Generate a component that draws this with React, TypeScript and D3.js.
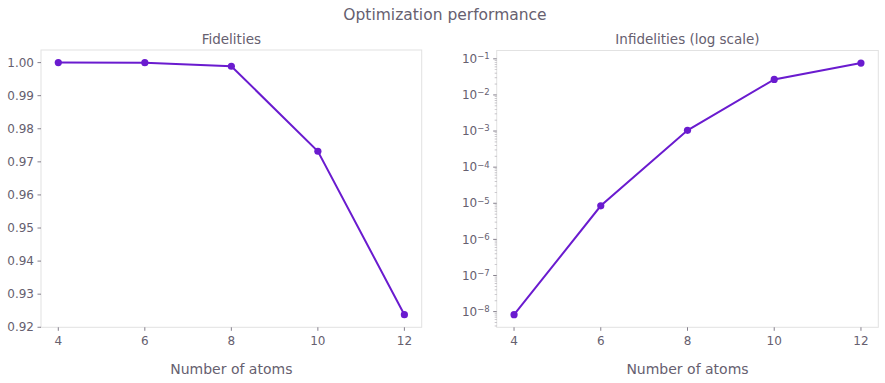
import React from "react";
import * as d3 from "d3";

const atoms = [4, 6, 8, 10, 12];
const fidelities = [1.0, 0.99999, 0.9989, 0.9732, 0.9238];
const infidelities = [8.2e-9, 8.5e-6, 1.05e-3, 0.0268, 0.0762];
const xTicks = [4, 6, 8, 10, 12];
const fidTicks = [0.92, 0.93, 0.94, 0.95, 0.96, 0.97, 0.98, 0.99, 1.0];
const logTickExps = [-8, -7, -6, -5, -4, -3, -2, -1];

const W = 885;
const H = 383;
const LINE = "#6a1bcf";
const TEXT = "#66606f";
const SPINE = "#e2e2e2";
const FONT = "DejaVu Sans, sans-serif";

function withMargin(lo: number, hi: number, m = 0.05): [number, number] {
  const r = hi - lo;
  return [lo - r * m, hi + r * m];
}

export default function App() {
  const L = { x0: 41, x1: 421.7, y0: 50, y1: 327.3 };
  const R = { x0: 496.7, x1: 878.3, y0: 50.5, y1: 327.3 };

  const xd = withMargin(d3.min(atoms)!, d3.max(atoms)!, 0.05);
  const xL = d3.scaleLinear().domain(xd).range([L.x0, L.x1]);
  const xR = d3.scaleLinear().domain(xd).range([R.x0, R.x1]);

  const yLd = withMargin(d3.min(fidelities)!, d3.max(fidelities)!, 0.05);
  const yL = d3.scaleLinear().domain(yLd).range([L.y1, L.y0]);

  const lmin = Math.log10(d3.min(infidelities)!);
  const lmax = Math.log10(d3.max(infidelities)!);
  const [ld0, ld1] = withMargin(lmin, lmax, 0.05);
  const yR = d3.scaleLog().domain([Math.pow(10, ld0), Math.pow(10, ld1)]).range([R.y1, R.y0]);

  const lineL = d3.line<number>().x((_, i) => xL(atoms[i])).y((d) => yL(d));
  const lineR = d3.line<number>().x((_, i) => xR(atoms[i])).y((d) => yR(d));

  // minor ticks for log axis
  const minor: number[] = [];
  for (let e = -9; e <= 0; e++) {
    for (let k = 2; k <= 9; k++) {
      const v = k * Math.pow(10, e);
      if (Math.log10(v) >= ld0 && Math.log10(v) <= ld1) minor.push(v);
    }
  }

  return (
    <div style={{ position: "absolute", left: 0, top: 0 }}>
      <svg width={W} height={H} style={{ display: "block", background: "#fff" }} fontFamily={FONT}>
        <text x={445} y={20} textAnchor="middle" fontSize={15.5} fill={TEXT}>
          Optimization performance
        </text>

        {/* Left panel */}
        <text x={(L.x0 + L.x1) / 2} y={44} textAnchor="middle" fontSize={13.5} fill={TEXT}>
          Fidelities
        </text>
        <rect x={L.x0} y={L.y0} width={L.x1 - L.x0} height={L.y1 - L.y0} fill="none" stroke={SPINE} strokeWidth={1} />
        {fidTicks.map((t) => (
          <g key={"fl" + t}>
            <line x1={L.x0 - 3.5} x2={L.x0} y1={yL(t)} y2={yL(t)} stroke={TEXT} strokeWidth={0.8} />
            <text x={L.x0 - 7} y={yL(t)} dy="0.35em" textAnchor="end" fontSize={12} fill={TEXT}>
              {t.toFixed(2)}
            </text>
          </g>
        ))}
        {xTicks.map((t) => (
          <g key={"xl" + t}>
            <line x1={xL(t)} x2={xL(t)} y1={L.y1} y2={L.y1 + 3.5} stroke={TEXT} strokeWidth={0.8} />
            <text x={xL(t)} y={L.y1 + 18} textAnchor="middle" fontSize={12} fill={TEXT}>
              {t}
            </text>
          </g>
        ))}
        <text x={(L.x0 + L.x1) / 2} y={374} textAnchor="middle" fontSize={14} fill={TEXT}>
          Number of atoms
        </text>
        <path d={lineL(fidelities) || ""} fill="none" stroke={LINE} strokeWidth={2} />
        {fidelities.map((d, i) => (
          <circle key={"pl" + i} cx={xL(atoms[i])} cy={yL(d)} r={3.6} fill={LINE} />
        ))}

        {/* Right panel */}
        <text x={(R.x0 + R.x1) / 2} y={44} textAnchor="middle" fontSize={13.5} fill={TEXT}>
          Infidelities (log scale)
        </text>
        <rect x={R.x0} y={R.y0} width={R.x1 - R.x0} height={R.y1 - R.y0} fill="none" stroke={SPINE} strokeWidth={1} />
        {minor.map((v, i) => (
          <line key={"mn" + i} x1={R.x0 - 2} x2={R.x0} y1={yR(v)} y2={yR(v)} stroke={TEXT} strokeWidth={0.6} opacity={0.6} />
        ))}
        {logTickExps.map((e) => {
          const y = yR(Math.pow(10, e));
          return (
            <g key={"lr" + e}>
              <line x1={R.x0 - 3.5} x2={R.x0} y1={y} y2={y} stroke={TEXT} strokeWidth={0.8} />
              <text x={R.x0 - 7} y={y} dy="0.35em" textAnchor="end" fontSize={12} fill={TEXT}>
                10
                <tspan dy="-0.45em" fontSize={8.5}>
                  {"\u2212" + Math.abs(e)}
                </tspan>
              </text>
            </g>
          );
        })}
        {xTicks.map((t) => (
          <g key={"xr" + t}>
            <line x1={xR(t)} x2={xR(t)} y1={R.y1} y2={R.y1 + 3.5} stroke={TEXT} strokeWidth={0.8} />
            <text x={xR(t)} y={R.y1 + 18} textAnchor="middle" fontSize={12} fill={TEXT}>
              {t}
            </text>
          </g>
        ))}
        <text x={(R.x0 + R.x1) / 2} y={374} textAnchor="middle" fontSize={14} fill={TEXT}>
          Number of atoms
        </text>
        <path d={lineR(infidelities) || ""} fill="none" stroke={LINE} strokeWidth={2} />
        {infidelities.map((d, i) => (
          <circle key={"pr" + i} cx={xR(atoms[i])} cy={yR(d)} r={3.6} fill={LINE} />
        ))}
      </svg>
    </div>
  );
}
